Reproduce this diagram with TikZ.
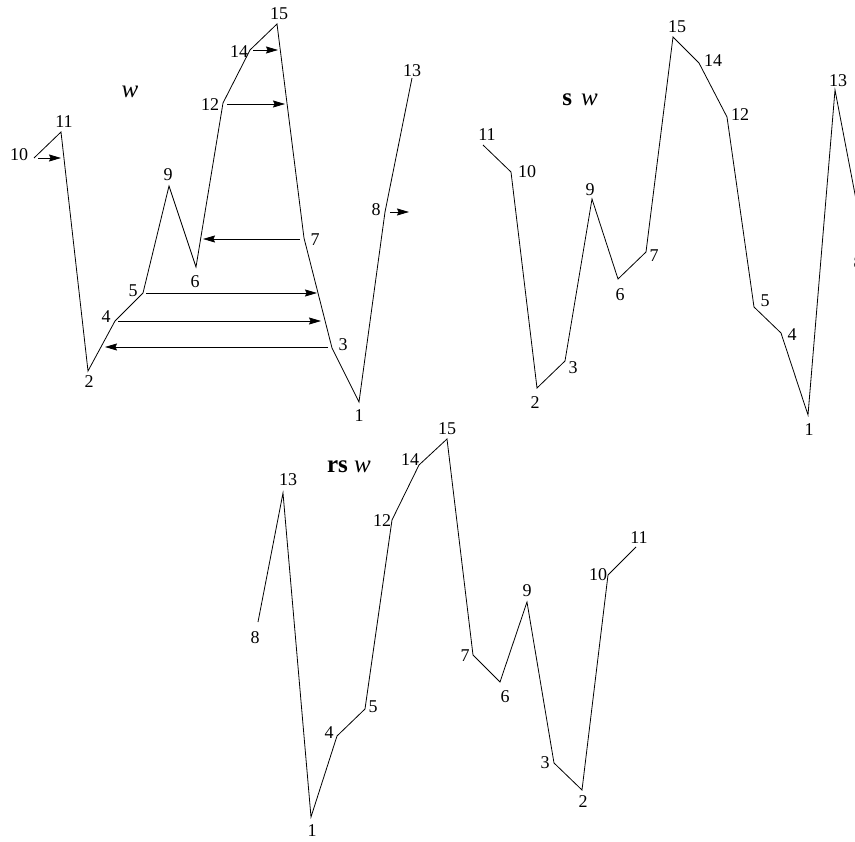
\documentclass[tikz,border=0pt]{standalone}
\usepackage{fontspec}
\setmainfont{Liberation Serif}
\usetikzlibrary{arrows.meta}
\begin{document}
\begin{tikzpicture}[x=1pt,y=-1pt,
  lbl/.style={inner sep=0pt,font=\fontsize{18}{20}\selectfont},
  ttl/.style={inner sep=0pt,font=\fontsize{25}{28}\selectfont},
  curve/.style={line width=0.8pt,line join=miter},
  shift arrow/.style={line width=0.8pt,-{Stealth[length=12pt,width=7pt,inset=1.5pt]}}]
\useasboundingbox (0,0) rectangle (855,842);
\clip (0,0) rectangle (855,842);
% ---------- panel 1 : w ----------
\coordinate (a10) at (34,158);
\coordinate (a11) at (61,132);
\coordinate (a2) at (88,371);
\coordinate (a4) at (115,321);
\coordinate (a5) at (143,293);
\coordinate (a9) at (169,186);
\coordinate (a6) at (196,267);
\coordinate (a12) at (223,103);
\coordinate (a14) at (250,50);
\coordinate (a15) at (277,24);
\coordinate (a7) at (304,238);
\coordinate (a3) at (332,348);
\coordinate (a1) at (359,402);
\coordinate (a8) at (385,212);
\coordinate (a13) at (412,78);
\draw[curve] (a10)--(a11)--(a2)--(a4)--(a5)--(a9)--(a6)--(a12)--(a14)--(a15)--(a7)--(a3)--(a1)--(a8)--(a13);
\node[lbl] (la10) at (19,155) {10};
\node[lbl] (la11) at (64,122) {11};
\node[lbl] (la2) at (89,382) {2};
\node[lbl] (la4) at (106,317) {4};
\node[lbl] (la5) at (133,291) {5};
\node[lbl] (la9) at (168,175) {9};
\node[lbl] (la6) at (195,282) {6};
\node[lbl] (la12) at (210,105) {12};
\node[lbl] (la14) at (239,52) {14};
\node[lbl] (la15) at (279,14) {15};
\node[lbl] (la7) at (315,240) {7};
\node[lbl] (la3) at (343,345) {3};
\node[lbl] (la1) at (359,416) {1};
\node[lbl] (la8) at (376,210) {8};
\node[lbl] (la13) at (412,71) {13};
\node[ttl] (tw) at (130,92) {\itshape w};
% shift arrows
\coordinate (s10a) at (38,158);   \coordinate (s10b) at (61,158);
\coordinate (s14a) at (253,50);   \coordinate (s14b) at (278,50);
\coordinate (s12a) at (227,104);  \coordinate (s12b) at (285,104);
\coordinate (s7a) at (300,239);   \coordinate (s7b) at (203,239);
\coordinate (s5a) at (146,293);   \coordinate (s5b) at (317,293);
\coordinate (s4a) at (118,321);   \coordinate (s4b) at (321,321);
\coordinate (s3a) at (328,347);   \coordinate (s3b) at (105,347);
\coordinate (s8a) at (390,212);   \coordinate (s8b) at (409,212);
\foreach \p in {10,14,12,7,5,4,3,8}
  \draw[shift arrow] (s\p a) -- (s\p b);
% ---------- panel 2 : s w ----------
\coordinate (b11) at (483,145);
\coordinate (b10) at (511,172);
\coordinate (b2) at (537,388);
\coordinate (b3) at (565,361);
\coordinate (b9) at (592,199);
\coordinate (b6) at (618,279);
\coordinate (b7) at (646,252);
\coordinate (b15) at (673,37);
\coordinate (b14) at (699,63);
\coordinate (b12) at (727,117);
\coordinate (b5) at (754,307);
\coordinate (b4) at (781,333);
\coordinate (b1) at (808,415);
\coordinate (b13) at (835,90);
\coordinate (b8) at (868,262);
\draw[curve] (b11)--(b10)--(b2)--(b3)--(b9)--(b6)--(b7)--(b15)--(b14)--(b12)--(b5)--(b4)--(b1)--(b13)--(b8);
\node[lbl] (lb11) at (487,135) {11};
\node[lbl] (lb10) at (527,172) {10};
\node[lbl] (lb2) at (535,403) {2};
\node[lbl] (lb3) at (573,368) {3};
\node[lbl] (lb9) at (590,190) {9};
\node[lbl] (lb6) at (620,295) {6};
\node[lbl] (lb7) at (654,256) {7};
\node[lbl] (lb15) at (677,27) {15};
\node[lbl] (lb14) at (713,61) {14};
\node[lbl] (lb12) at (740,115) {12};
\node[lbl] (lb5) at (765,301) {5};
\node[lbl] (lb4) at (792,335) {4};
\node[lbl] (lb1) at (809,430) {1};
\node[lbl] (lb13) at (838,81) {13};
\node[lbl] (lb8) at (858,263) {8};
\node[ttl] (tsw) at (580,100) {\textbf{s}\hspace{9pt}\textit{w}};
% ---------- panel 3 : rs w ----------
\coordinate (c8) at (258,622);
\coordinate (c13) at (283,493);
\coordinate (c1) at (311,817);
\coordinate (c4) at (337,736);
\coordinate (c5) at (365,709);
\coordinate (c12) at (392,520);
\coordinate (c14) at (419,465);
\coordinate (c15) at (447,439);
\coordinate (c7) at (473,655);
\coordinate (c6) at (500,682);
\coordinate (c9) at (527,602);
\coordinate (c3) at (554,763);
\coordinate (c2) at (582,790);
\coordinate (c10) at (608,575);
\coordinate (c11) at (636,547);
\draw[curve] (c8)--(c13)--(c1)--(c4)--(c5)--(c12)--(c14)--(c15)--(c7)--(c6)--(c9)--(c3)--(c2)--(c10)--(c11);
\node[lbl] (lc8) at (255,638) {8};
\node[lbl] (lc13) at (288,480) {13};
\node[lbl] (lc1) at (312,831) {1};
\node[lbl] (lc4) at (329,733) {4};
\node[lbl] (lc5) at (373,707) {5};
\node[lbl] (lc12) at (382,521) {12};
\node[lbl] (lc14) at (410,460) {14};
\node[lbl] (lc15) at (447,429) {15};
\node[lbl] (lc7) at (465,656) {7};
\node[lbl] (lc6) at (505,697) {6};
\node[lbl] (lc9) at (527,591) {9};
\node[lbl] (lc3) at (545,763) {3};
\node[lbl] (lc2) at (583,802) {2};
\node[lbl] (lc10) at (598,575) {10};
\node[lbl] (lc11) at (639,538) {11};
\node[ttl] (trsw) at (349,467) {\textbf{rs} \textit{w}};
\end{tikzpicture}
\end{document}
